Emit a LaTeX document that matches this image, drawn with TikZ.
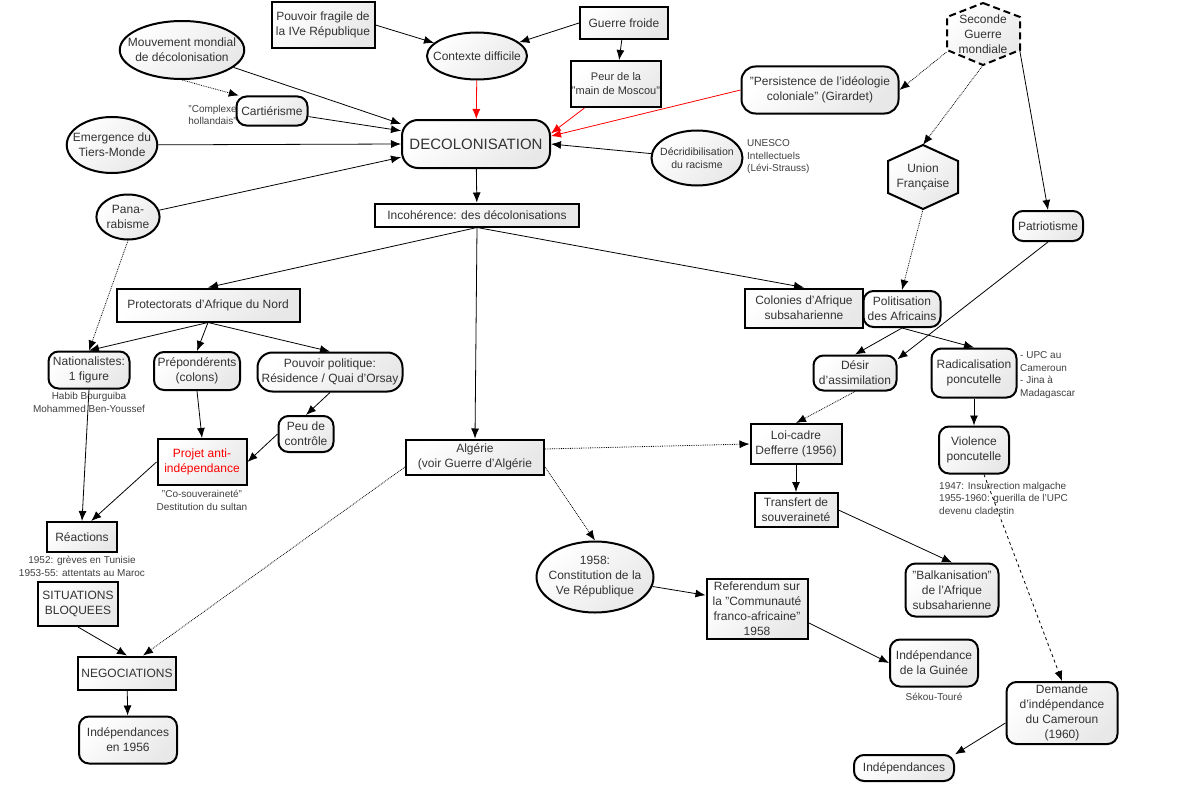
\documentclass[tikz,border=0pt]{standalone}
\usepackage{fontspec}
\setmainfont{Liberation Sans}
\usetikzlibrary{positioning}
\usetikzlibrary{shapes.geometric}
\usetikzlibrary{arrows.meta}

\begin{document}
\begin{tikzpicture}[x=1pt, y=-1pt, >={Latex[length=10pt,width=8pt]},
shadenode/.style={draw=black, line width=2pt, top color=white, bottom color=black!9, shading angle=45, text=black!80, align=center, inner sep=1pt, font=\fontsize{12}{15}\selectfont},
boxnode/.style={shadenode, rectangle},
roundnode/.style={shadenode, rectangle, rounded corners=10pt},
ovalnode/.style={shadenode, ellipse},
hexnode/.style={text=black!80, align=center, inner sep=1pt, font=\fontsize{12}{15}\selectfont},
hexshape/.style={draw=black, line width=2pt, top color=white, bottom color=black!9, shading angle=45},
notetext/.style={text=black!75, font=\fontsize{10}{12.5}\selectfont, inner sep=0pt},
link/.style={->, line width=0.8pt},
dotlink/.style={link, densely dotted},
redlink/.style={link, red}]
\path[use as bounding box, fill=white] (0,0) rectangle (1200,800);

\node[ovalnode, minimum width=124, minimum height=58, inner xsep=-10pt] (mouvement) at (182,50) {Mouvement mondial\\de décolonisation};
\node[boxnode, minimum width=103, minimum height=46] (fragile) at (323,25) {Pouvoir fragile de\\la IVe République};
\node[ovalnode, minimum width=100, minimum height=47, inner xsep=-9pt] (contexte) at (477,56) {Contexte difficile};
\node[boxnode, minimum width=88, minimum height=32] (froide) at (624,23) {Guerre froide};
\node[boxnode, minimum width=88, minimum height=46, font=\fontsize{11}{14}\selectfont] (moscou) at (616,84) {Peur de la\\"main de Moscou"};
\node[roundnode, rounded corners=16pt, minimum width=148, minimum height=48, font=\fontsize{15}{18}\selectfont] (decolo) at (476,144) {DECOLONISATION};
\node[roundnode, minimum width=71, minimum height=29] (cartier) at (272,111) {Cartiérisme};
\node[notetext, anchor=east, align=right] (hollandais) at (237,115) {"Complexe\\hollandais"};
\node[ovalnode, minimum width=90, minimum height=56, inner xsep=-7pt] (tiersmonde) at (112,145) {Emergence du\\Tiers-Monde};
\node[ovalnode, minimum width=63, minimum height=45] (panarabe) at (128,217) {Pana-\\rabisme};
\node[roundnode, rounded corners=14pt, minimum width=157, minimum height=47] (girardet) at (820,90) {"Persistence de l'idéologie\\coloniale" (Girardet)};
\node[ovalnode, minimum width=91, minimum height=55, inner xsep=-5pt, font=\fontsize{10.5}{13.5}\selectfont] (racisme) at (697,158) {Décridibilisation\\du racisme};
\node[notetext, anchor=west, align=left] (unesco) at (747,157) {UNESCO\\Intellectuels\\(Lévi-Strauss)};
\node[boxnode, minimum width=204, minimum height=23] (incoherence) at (477,215) {Incohérence: des décolonisations};

\path[hexshape, dash pattern=on 7pt off 4pt] (983,3) -- (1020,17) -- (1020,50) -- (983,65) -- (947,50) -- (947,17) -- cycle;
\node[hexnode, minimum width=73, minimum height=62] (guerremondiale) at (983,34) {Seconde\\Guerre\\mondiale};
\path[hexshape] (923,145) -- (958,161) -- (958,193) -- (923,209) -- (888,193) -- (888,161) -- cycle;
\node[hexnode, minimum width=70, minimum height=64] (union) at (923,177) {Union\\Française};
\node[roundnode, minimum width=70, minimum height=30] (patriotisme) at (1048,226) {Patriotisme};

\node[boxnode, minimum width=183, minimum height=33] (protectorats) at (208,305) {Protectorats d'Afrique du Nord};
\node[roundnode, minimum width=81, minimum height=37] (nationalistes) at (89,370) {Nationalistes:\\1 figure};
\node[notetext, align=center, below=3pt of nationalistes] (bourguiba) {Habib Bourguiba\\Mohammed Ben-Youssef};
\node[roundnode, minimum width=86, minimum height=38] (preponderents) at (197,371) {Prépondérents\\(colons)};
\node[roundnode, rounded corners=15pt, minimum width=145, minimum height=39] (pouvoirpol) at (330,372) {Pouvoir politique:\\Résidence / Quai d'Orsay};
\node[roundnode, minimum width=55, minimum height=36] (controle) at (306,434) {Peu de\\contrôle};
\node[boxnode, minimum width=89, minimum height=46, text=red] (antiindep) at (202,462) {Projet anti-\\indépendance};
\node[notetext, align=center, below=4pt of antiindep] (cosouv) {"Co-souveraineté"\\Destitution du sultan};
\node[boxnode, minimum width=70, minimum height=30] (reactions) at (82,537) {Réactions};
\node[notetext, align=center, below=3pt of reactions] (greves) {1952: grèves en Tunisie\\1953-55: attentats au Maroc};
\node[boxnode, minimum width=80, minimum height=44] (bloquees) at (78,604) {SITUATIONS\\BLOQUEES};
\node[boxnode, minimum width=98, minimum height=33] (negociations) at (127,673) {NEGOCIATIONS};
\node[roundnode, minimum width=98, minimum height=47] (indep56) at (128,740) {Indépendances\\en 1956};

\node[boxnode, minimum width=138, minimum height=35] (algerie) at (475,457) {Algérie\\(voir Guerre d'Algérie};
\node[ovalnode, minimum width=116, minimum height=71, inner xsep=-5pt] (constitution) at (595,577) {1958:\\Constitution de la\\Ve République};
\node[boxnode, minimum width=101, minimum height=60] (referendum) at (757,609) {Referendum sur\\la "Communauté\\franco-africaine"\\1958};
\node[roundnode, minimum width=88, minimum height=47] (guinee) at (934,663) {Indépendance\\de la Guinée};
\node[notetext, below=5pt of guinee] (sekou) {Sékou-Touré};

\node[boxnode, minimum width=118, minimum height=39] (colonies) at (804,308) {Colonies d'Afrique\\subsaharienne};
\node[roundnode, minimum width=77, minimum height=36] (politisation) at (902,309) {Politisation\\des Africains};
\node[roundnode, minimum width=83, minimum height=35] (assimilation) at (855,373) {Désir\\d'assimilation};
\node[roundnode, minimum width=85, minimum height=49] (radicalisation) at (974,373) {Radicalisation\\poncutelle};
\node[notetext, anchor=west, align=left] (upc) at (1020,375) {- UPC au\\Cameroun\\- Jina à\\Madagascar};
\node[roundnode, minimum width=70, minimum height=47] (violence) at (974,450) {Violence\\poncutelle};
\node[notetext, anchor=west, align=left] (insurrection) at (939,498) {1947: Insurrection malgache\\1955-1960: guerilla de l'UPC\\devenu cladestin};
\node[boxnode, minimum width=91, minimum height=40] (loicadre) at (796,444) {Loi-cadre\\Defferre (1956)};
\node[boxnode, minimum width=83, minimum height=34] (transfert) at (796,510) {Transfert de\\souveraineté};
\node[roundnode, minimum width=93, minimum height=53] (balkan) at (952,590) {"Balkanisation"\\de l'Afrique\\subsaharienne};
\node[roundnode, minimum width=111, minimum height=62] (cameroun) at (1062,713) {Demande\\d'indépendance\\du Cameroun\\(1960)};
\node[roundnode, minimum width=100, minimum height=26] (independances) at (904,768) {Indépendances};

\draw[link] (mouvement) -- (decolo.165);
\draw[dotlink] (mouvement.south) -- (cartier.155);
\draw[link] (cartier) -- (decolo.170);
\draw[link] (tiersmonde) -- (decolo.180);
\draw[link] (panarabe) -- (decolo.190);
\draw[dotlink] (panarabe.south) -- (nationalistes.north);
\draw[link] (fragile.east) -- (contexte);
\draw[link] (froide.west) -- (contexte);
\draw[link] (froide) -- (moscou);
\draw[redlink] (contexte) -- (decolo);
\draw[redlink] (moscou) -- (decolo.8);
\draw[redlink] (girardet.west) -- (decolo.6);
\draw[link] (racisme) -- (decolo.east);
\draw[link] (decolo) -- (incoherence);
\draw[link] (incoherence.south) -- (protectorats.north);
\draw[link] (incoherence.south) -- (algerie.north);
\draw[link] (incoherence.south) -- (colonies.north);
\draw[link] (protectorats.south) -- (nationalistes.north);
\draw[link] (protectorats.south) -- (preponderents.north);
\draw[link] (protectorats.south) -- (pouvoirpol.north);
\draw[link] (pouvoirpol.south) -- (controle.north);
\draw[link] (controle.west) -- (antiindep.east);
\draw[link] (preponderents.south) -- (antiindep.north);
\draw[link] (nationalistes.south) -- (reactions.north);
\draw[link] (antiindep.west) -- (reactions.60);
\draw[link] (bloquees.south) -- (negociations.north);
\draw[dotlink] ([yshift=-10pt]algerie.west) -- ([xshift=16pt]negociations.north);
\draw[link] (negociations) -- (indep56);
\draw[dotlink] ([yshift=8pt]algerie.east) -- (loicadre.west);
\draw[dotlink] ([yshift=-10pt]algerie.east) -- (constitution.north);
\draw[link] (constitution) -- (referendum.165);
\draw[link] (referendum.345) -- (guinee.west);
\draw[dotlink] ([yshift=13pt]guerremondiale.south west) -- (girardet.east);
\draw[dotlink] (guerremondiale.south) -- (union.north);
\draw[link] ([yshift=15pt]guerremondiale.south east) -- (patriotisme.north);
\draw[dotlink] (union.south) -- (politisation.north);
\draw[link] (patriotisme.south) -- (assimilation.18);
\draw[link] (politisation.south) -- (assimilation.north);
\draw[link] (politisation.south) -- (radicalisation.north);
\draw[dotlink] (assimilation.south) -- (loicadre.north);
\draw[link] (radicalisation) -- (violence);
\draw[link] (loicadre) -- (transfert);
\draw[link] (transfert.east) -- (balkan.north);
\draw[link, dashed] ([xshift=10pt]violence.south) -- (cameroun.north);
\draw[link] (cameroun.190) -- (independances.15);
\end{tikzpicture}
\end{document}
